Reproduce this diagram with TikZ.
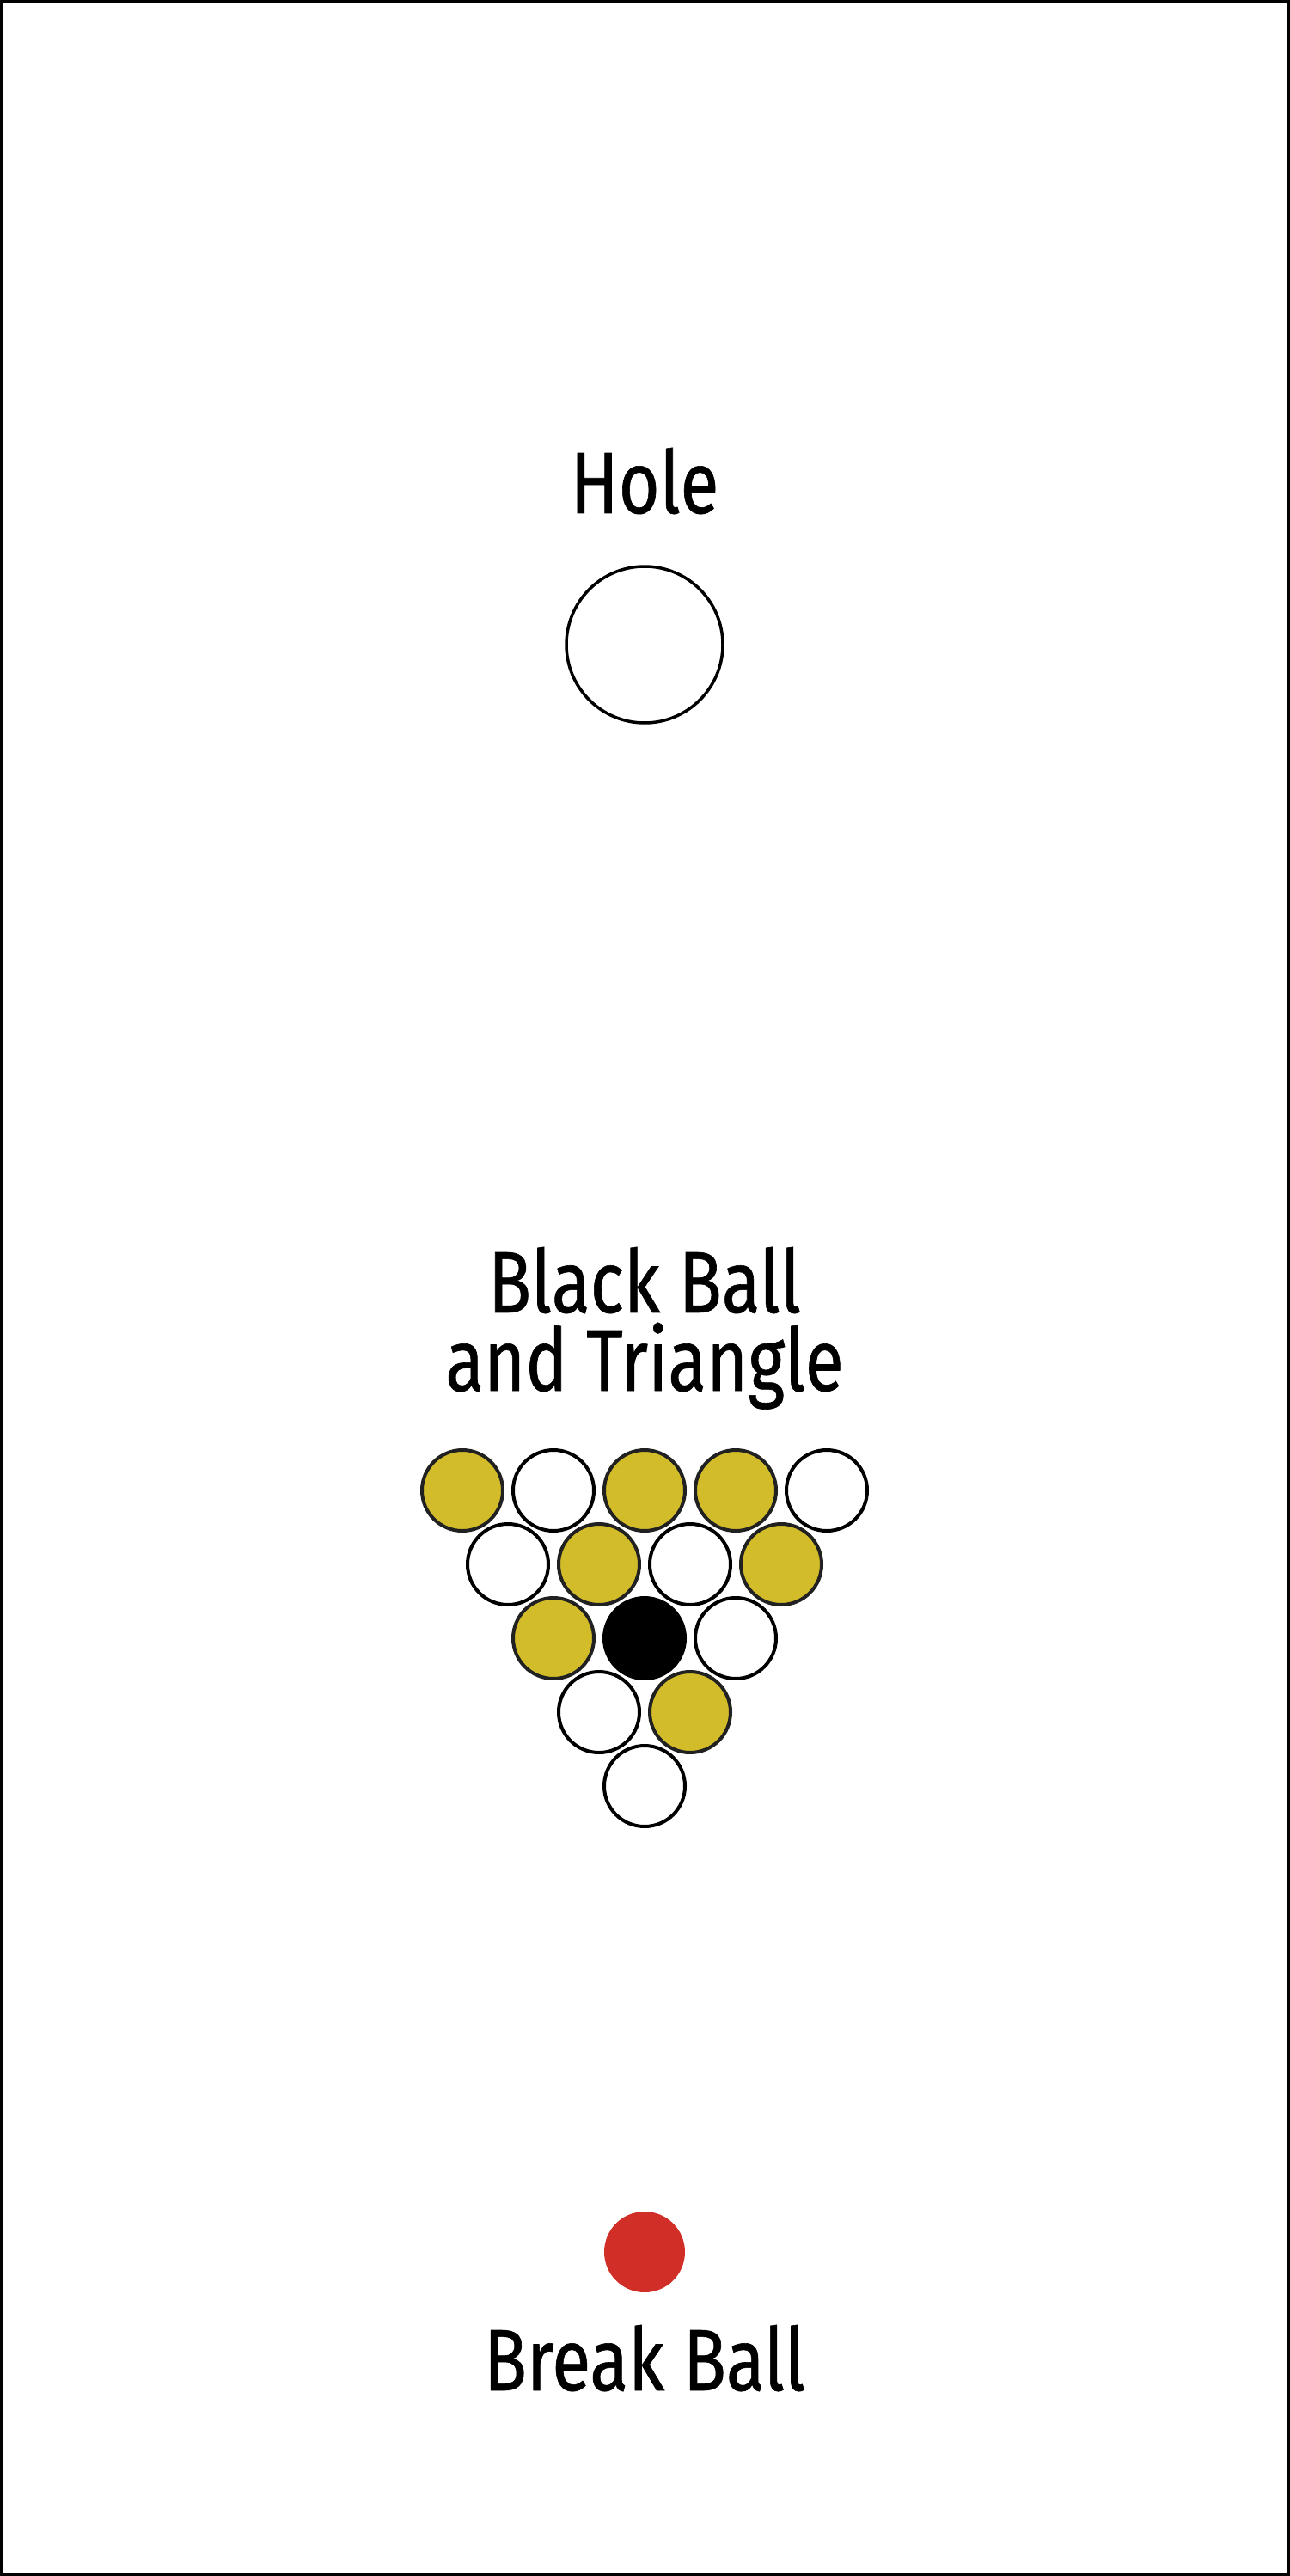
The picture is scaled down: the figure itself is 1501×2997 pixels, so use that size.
\documentclass[tikz,border=0pt]{standalone}
\usepackage{fontspec}
\setmainfont{Fira Sans}[FakeStretch=0.81,FakeBold=0.6]
\definecolor{gold}{RGB}{210,188,42}
\definecolor{breakred}{RGB}{209,46,39}
\tikzstyle{ball}=[circle,inner sep=0mm,minimum size=9.4mm,line width=0.4mm,draw=black,fill=white]
\tikzstyle{yball}=[ball,fill=gold,draw=black!87]
\tikzstyle{title}=[inner sep=0mm,anchor=base,align=center,font=\fontsize{28.9}{25.9}\selectfont]

\begin{document}
\begin{tikzpicture}[x=0.1mm,y=-0.1mm]
\useasboundingbox (0,0) rectangle (1501,2997);
\draw[line width=0.4mm] (2,2) rectangle (1499,2995);

% hole
\node (holetext) at (750,597) [title] {Hole};
\node (hole) at (750,750) [circle,inner sep=0mm,minimum size=18.2mm,line width=0.35mm,draw=black] {};

% triangle
\node (triangletext) at (750,1618) [title] {Black Ball\\and Triangle};

\node (b1) at (538,1734) [yball] {};
\node (b2) at (644,1734) [ball]  {};
\node (b3) at (750,1734) [yball] {};
\node (b4) at (856,1734) [yball] {};
\node (b5) at (962,1734) [ball]  {};

\node (b6) at (591,1820) [ball]  {};
\node (b7) at (697,1820) [yball] {};
\node (b8) at (803,1820) [ball]  {};
\node (b9) at (909,1820) [yball] {};

\node (b10) at (644,1906) [yball] {};
\node (b11) at (750,1906) [ball,fill=black] {};
\node (b12) at (856,1906) [ball]  {};

\node (b13) at (697,1992) [ball]  {};
\node (b14) at (803,1992) [yball] {};

\node (b15) at (750,2078) [ball]  {};

% break ball
\node (breakball) at (750,2620) [circle,inner sep=0mm,minimum size=9.4mm,fill=breakred] {};
\node (breaktext) at (750,2781) [title] {Break Ball};
\end{tikzpicture}
\end{document}
